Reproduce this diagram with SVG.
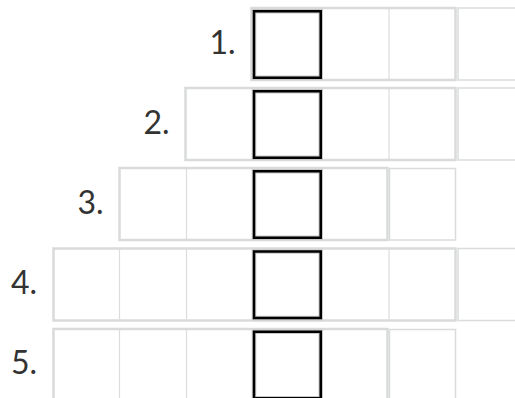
<svg xmlns="http://www.w3.org/2000/svg" width="515" height="398" viewBox="0 0 515 398">
<style>
.bg{fill:#ffffff}
.thick{fill:#ffffff;stroke:#d9dbdb;stroke-width:2.5}
.thin{fill:#ffffff;stroke:#dadcdc;stroke-width:1.5}
.div{stroke:#dcdcdc;stroke-width:1.2}
.hlg{fill:none;stroke:#c8c8c8;stroke-width:4.5}
.hl{fill:none;stroke:#000000;stroke-width:2.5}
.lbl{font-family:Lato,"Open Sans","Liberation Sans",sans-serif;font-size:32px;fill:#333333;text-anchor:end}
</style>
<rect class="bg" x="0" y="0" width="515" height="398"/>
<g id="row1">
  <rect class="thin" x="458" y="8" width="70" height="72"/>
  <rect class="thick" x="251.5" y="8" width="204" height="72"/>
  <line class="div" x1="389" y1="9" x2="389" y2="79"/>
  <rect class="hlg" x="254" y="11.25" width="66.75" height="66.5"/>
  <rect class="hl" x="254" y="11.25" width="66.75" height="66.5"/>
  <text class="lbl" x="235.5" y="53.5">1.</text>
</g>
<g id="row2">
  <rect class="thin" x="458" y="88" width="70" height="72"/>
  <rect class="thick" x="185.5" y="88" width="270" height="72"/>
  <line class="div" x1="389" y1="89" x2="389" y2="159"/>
  <rect class="hlg" x="254" y="91.25" width="66.75" height="66.5"/>
  <rect class="hl" x="254" y="91.25" width="66.75" height="66.5"/>
  <text class="lbl" x="169.5" y="133.5">2.</text>
</g>
<g id="row3">
  <rect class="thick" x="119.5" y="168" width="268" height="72"/>
  <rect class="thin" x="389.5" y="168.5" width="66" height="71.5"/>
  <line class="div" x1="186.5" y1="169" x2="186.5" y2="239"/>
  <rect class="hlg" x="254" y="171.25" width="66.75" height="66.5"/>
  <rect class="hl" x="254" y="171.25" width="66.75" height="66.5"/>
  <text class="lbl" x="103.5" y="213.5">3.</text>
</g>
<g id="row4">
  <rect class="thin" x="458" y="248.5" width="70" height="72"/>
  <rect class="thick" x="53.5" y="248.5" width="402" height="72"/>
  <line class="div" x1="119.5" y1="249.5" x2="119.5" y2="319.5"/>
  <line class="div" x1="186.5" y1="249.5" x2="186.5" y2="319.5"/>
  <line class="div" x1="389" y1="249.5" x2="389" y2="319.5"/>
  <rect class="hlg" x="254" y="251.5" width="66.75" height="66.5"/>
  <rect class="hl" x="254" y="251.5" width="66.75" height="66.5"/>
  <text class="lbl" x="37" y="293.5">4.</text>
</g>
<g id="row5">
  <rect class="thick" x="53.5" y="329" width="334" height="72"/>
  <rect class="thin" x="389.5" y="329.5" width="66" height="71.5"/>
  <line class="div" x1="119.5" y1="330" x2="119.5" y2="400"/>
  <line class="div" x1="186.5" y1="330" x2="186.5" y2="400"/>
  <rect class="hlg" x="254" y="331.75" width="66.75" height="66.5"/>
  <rect class="hl" x="254" y="331.75" width="66.75" height="66.5"/>
  <text class="lbl" x="37" y="373.5">5.</text>
</g>
<g id="connectors"></g>
</svg>
